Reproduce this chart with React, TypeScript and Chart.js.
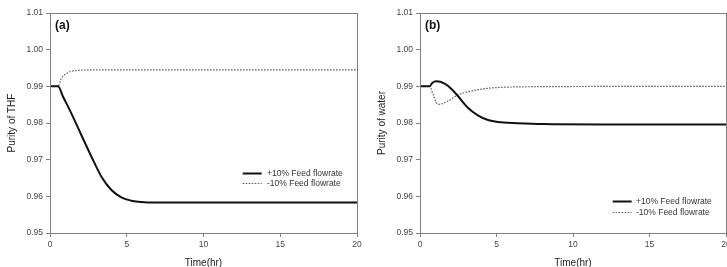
import React, { useEffect, useRef } from "react";
import { Chart, registerables } from "chart.js";

Chart.register(...registerables);

const FONT = "'Liberation Sans', Arial, Helvetica, sans-serif";

// ---- Data (a) Purity of THF ----
const thfPlusTime = [0, 0.52, 0.85, 1.39, 2.04, 2.7, 3.35, 4.0, 4.65, 5.3, 5.74, 7, 10, 15, 20];
const thfPlusPurity = [0.99, 0.99, 0.98717, 0.98264, 0.97673, 0.97081, 0.96535, 0.96173, 0.95973, 0.95881, 0.95854, 0.9583, 0.9583, 0.9583, 0.9583];
const thfMinusTime = [0, 0.52, 0.74, 1.17, 1.83, 2.5, 6, 20];
const thfMinusPurity = [0.99, 0.99, 0.99219, 0.99372, 0.99435, 0.99447, 0.9945, 0.9945];

// ---- Data (b) Purity of water ----
const waterPlusTime = [0, 0.63, 0.8, 1.07, 1.61, 2.04, 2.48, 3.13, 3.78, 4.44, 5.09, 6.39, 8, 12, 20];
const waterPlusPurity = [0.99, 0.99, 0.9909, 0.99136, 0.99073, 0.98935, 0.98736, 0.98417, 0.9821, 0.98082, 0.98027, 0.97995, 0.9797, 0.9796, 0.9796];
const waterMinusTime = [0, 0.63, 0.85, 1.07, 1.25, 1.83, 2.48, 3.35, 4.22, 5.3, 6.39, 10, 20];
const waterMinusPurity = [0.99, 0.99, 0.98782, 0.98553, 0.9851, 0.986, 0.98763, 0.98872, 0.98935, 0.98973, 0.98985, 0.98995, 0.99];

const seriesLabels = ["+10% Feed flowrate", "-10% Feed flowrate"];
const xMin = 0, xMax = 20, xStep = 5;
const yMin = 0.95, yMax = 1.01, yStep = 0.01;

const AXIS_GREY = "#7f7f7f";

function zip(xs: number[], ys: number[]) {
  return xs.map((x, i) => ({ x, y: ys[i] }));
}

const framePlugin = {
  id: "frame",
  afterDatasetsDraw(chart: any) {
    const { ctx, chartArea: a } = chart;
    ctx.save();
    ctx.strokeStyle = AXIS_GREY;
    ctx.lineWidth = 1;
    ctx.strokeRect(
      Math.round(a.left) + 0.5,
      Math.round(a.top) + 0.5,
      Math.round(a.right - a.left),
      Math.round(a.bottom - a.top)
    );
    ctx.restore();
  },
};

function overlayPlugin(panel: string, legX: number, legY: number, textX: number) {
  return {
    id: "overlay_" + panel,
    afterDraw(chart: any) {
      const { ctx, chartArea: a } = chart;
      ctx.save();
      // panel label
      ctx.fillStyle = "#111";
      ctx.font = `bold 12px ${FONT}`;
      ctx.textBaseline = "middle";
      ctx.textAlign = "left";
      ctx.fillText(panel, a.left + 5, a.top + 13);
      // legend
      ctx.font = `8.5px ${FONT}`;
      chart.data.datasets.forEach((ds: any, i: number) => {
        const y = Math.round(a.top + legY + i * 10.7) + 0.5;
        ctx.save();
        ctx.strokeStyle = ds.borderColor;
        ctx.lineWidth = ds.borderWidth;
        ctx.setLineDash(ds.borderDash || []);
        ctx.beginPath();
        ctx.moveTo(a.left + legX, y);
        ctx.lineTo(a.left + legX + 19, y);
        ctx.stroke();
        ctx.restore();
        ctx.fillStyle = "#333";
        ctx.fillText(ds.label, a.left + textX, y);
      });
      ctx.restore();
    },
  };
}

type PanelProps = {
  left: number;
  width: number;
  yAxisWidth: number;
  padRight: number;
  yTitle: string;
  yTitlePad: number;
  panel: string;
  plus: { x: number; y: number }[];
  minus: { x: number; y: number }[];
  legX: number;
  legY: number;
  textX: number;
};

function Panel(p: PanelProps) {
  const ref = useRef<HTMLCanvasElement | null>(null);
  useEffect(() => {
    if (!ref.current) return;
    const tickFont = { family: FONT, size: 8.5 };
    const chart = new Chart(ref.current, {
      type: "line",
      data: {
        datasets: [
          {
            label: seriesLabels[0],
            data: p.plus,
            borderColor: "#111",
            borderWidth: 2,
            pointRadius: 0,
            fill: false,
            cubicInterpolationMode: "monotone",
          },
          {
            label: seriesLabels[1],
            data: p.minus,
            borderColor: "#555",
            borderWidth: 1.2,
            borderDash: [1.5, 1.5],
            pointRadius: 0,
            fill: false,
            cubicInterpolationMode: "monotone",
          },
        ],
      },
      options: {
        responsive: false,
        animation: false,
        devicePixelRatio: 1,
        layout: { padding: { top: 13, right: p.padRight, left: 0, bottom: 0 } },
        plugins: { legend: { display: false }, tooltip: { enabled: false } },
        scales: {
          x: {
            type: "linear",
            min: xMin,
            max: xMax,
            ticks: { stepSize: xStep, font: tickFont, color: "#444", padding: 3, maxRotation: 0 },
            grid: { drawOnChartArea: false, tickLength: 4, color: AXIS_GREY },
            border: { display: false },
            title: {
              display: true,
              text: "Time(hr)",
              color: "#222",
              font: { family: FONT, size: 10 },
              padding: { top: 0, bottom: 11 },
            },
            afterFit: (s: any) => {
              s.height = 47;
            },
          },
          y: {
            type: "linear",
            min: yMin,
            max: yMax,
            ticks: {
              stepSize: yStep,
              font: tickFont,
              color: "#444",
              padding: 3,
              callback: (v: any) => Number(v).toFixed(2),
            },
            grid: { drawOnChartArea: false, tickLength: 4, color: AXIS_GREY },
            border: { display: false },
            title: {
              display: true,
              text: p.yTitle,
              color: "#222",
              font: { family: FONT, size: 10 },
              padding: { top: p.yTitlePad, bottom: 0 },
            },
            afterFit: (s: any) => {
              s.width = p.yAxisWidth;
            },
          },
        },
      } as any,
      plugins: [framePlugin, overlayPlugin(p.panel, p.legX, p.legY, p.textX)],
    });
    return () => chart.destroy();
  }, []);
  return (
    <canvas
      ref={ref}
      width={p.width}
      height={280}
      style={{ position: "absolute", left: p.left, top: 0, width: p.width, height: 280 }}
    />
  );
}

export default function App() {
  return (
    <div
      style={{
        position: "fixed",
        left: 0,
        top: 0,
        width: 727,
        height: 267,
        overflow: "hidden",
        background: "#fff",
      }}
    >
      <Panel
        left={0}
        width={367}
        yAxisWidth={50}
        padRight={10}
        yTitle="Purity of THF"
        yTitlePad={6}
        panel="(a)"
        plus={zip(thfPlusTime, thfPlusPurity)}
        minus={zip(thfMinusTime, thfMinusPurity)}
        legX={192.7}
        legY={159.5}
        textX={217}
      />
      <Panel
        left={367}
        width={380}
        yAxisWidth={53}
        padRight={21}
        yTitle="Purity of water"
        yTitlePad={9}
        panel="(b)"
        plus={zip(waterPlusTime, waterPlusPurity)}
        minus={zip(waterMinusTime, waterMinusPurity)}
        legX={192.7}
        legY={188}
        textX={216}
      />
    </div>
  );
}
